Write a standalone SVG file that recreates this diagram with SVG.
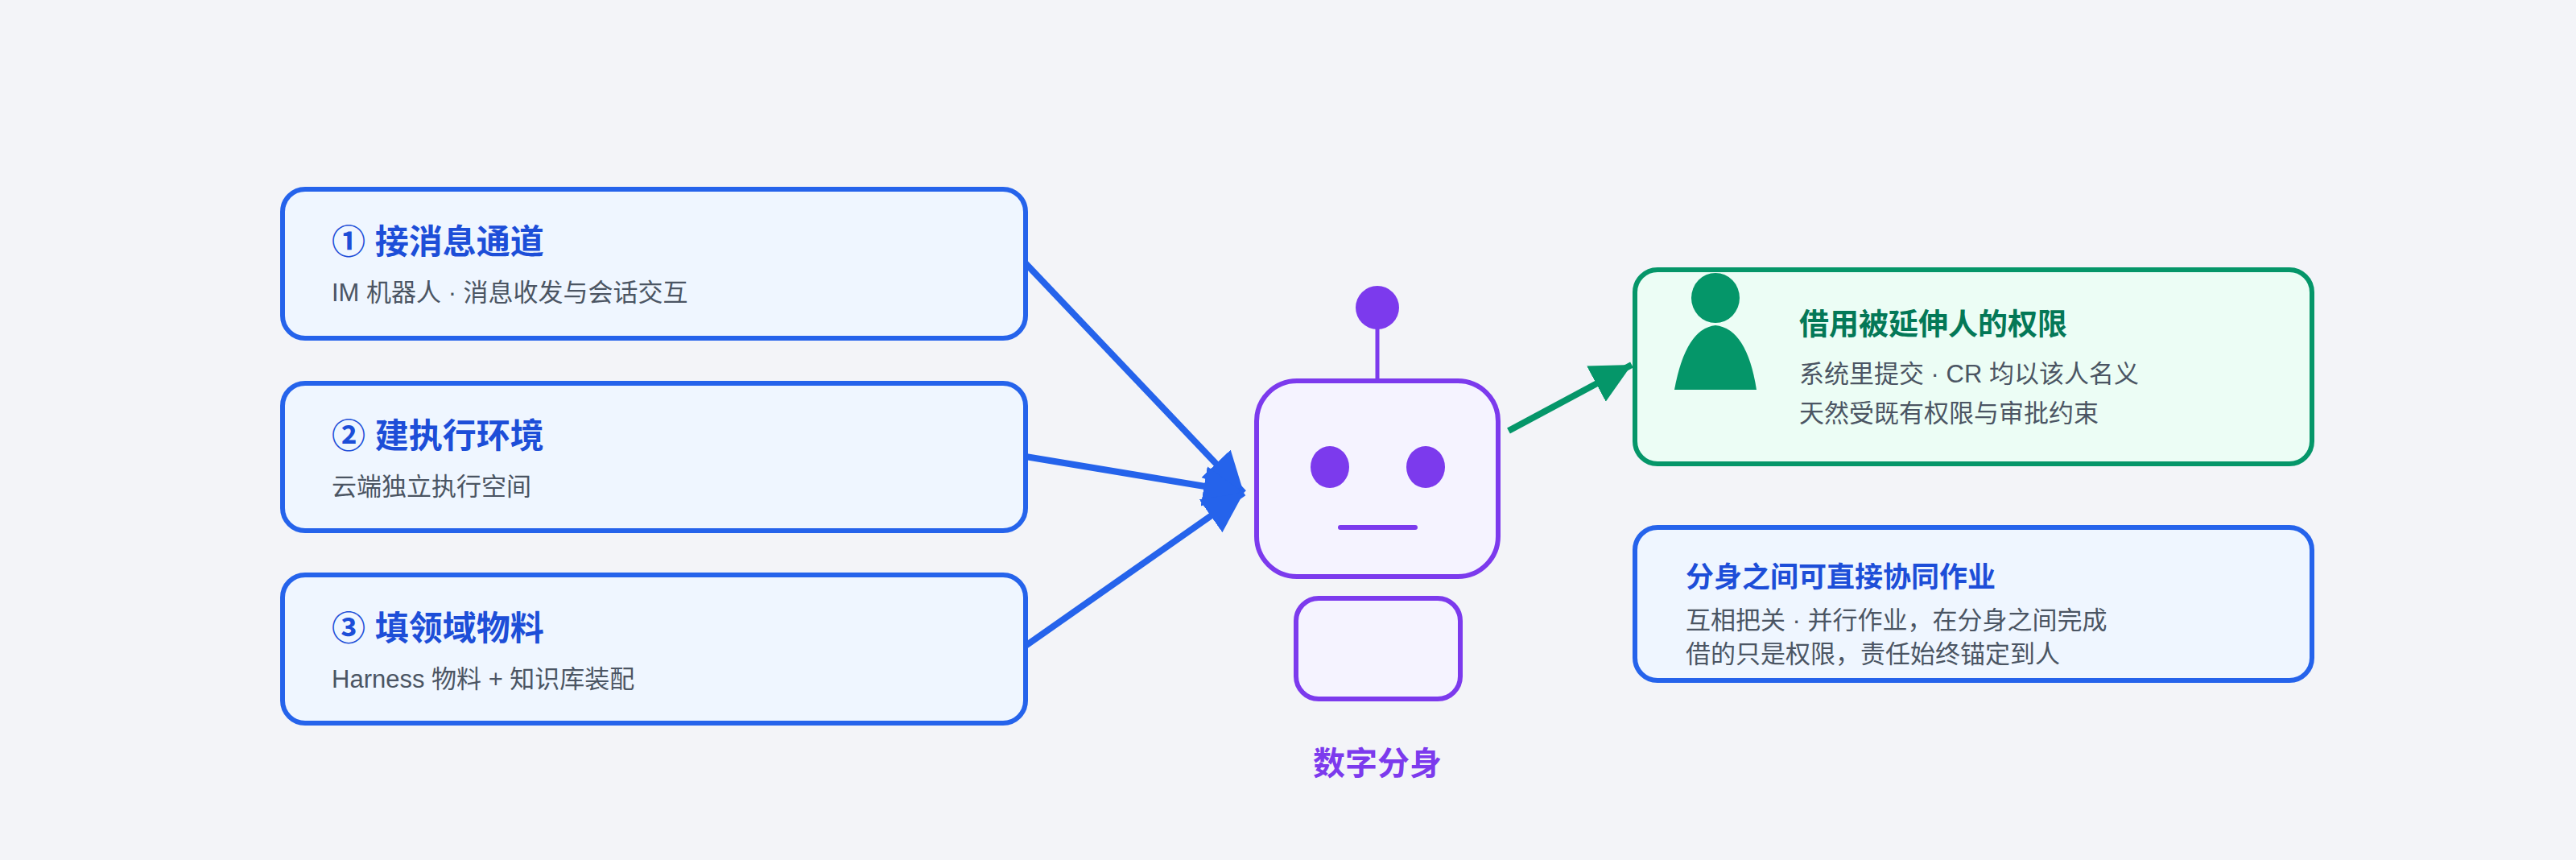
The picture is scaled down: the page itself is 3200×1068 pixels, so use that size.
<svg xmlns="http://www.w3.org/2000/svg" width="3200" height="1068" viewBox="0 0 3200 1068">
<defs>
<style>
.t{font-family:"Liberation Sans","Noto Sans CJK SC",sans-serif;}
.bt{font-size:42px;font-weight:bold;fill:#1d4ed8;}
.st{font-size:31px;fill:#4b5563;}
.bx{fill:#eff6ff;stroke:#2563eb;stroke-width:6;}
.pp{fill:#f5f3ff;stroke:#7c3aed;stroke-width:6;}
.ln{stroke:#2563eb;stroke-width:8;fill:none;}
</style>
<marker id="ab" markerUnits="userSpaceOnUse" markerWidth="60" markerHeight="60" refX="50" refY="25" orient="auto"><path d="M0,0 L50,25 L0,50 Z" fill="#2563eb"/></marker>
<marker id="ag" markerUnits="userSpaceOnUse" markerWidth="60" markerHeight="60" refX="50" refY="25" orient="auto"><path d="M0,0 L50,25 L0,50 Z" fill="#059669"/></marker>
</defs>
<rect width="3200" height="1068" fill="#f3f4f8"/>
<g id="connectors">
<line class="ln" x1="1274" y1="327" x2="1545" y2="612" marker-end="url(#ab)"/>
<line class="ln" x1="1274" y1="567" x2="1545" y2="612" marker-end="url(#ab)"/>
<line class="ln" x1="1274" y1="802" x2="1545" y2="612" marker-end="url(#ab)"/>
<line x1="1874" y1="535" x2="2027" y2="453" stroke="#059669" stroke-width="8" marker-end="url(#ag)"/>
</g>
<g id="n1"><rect class="bx" x="351" y="235" width="923" height="185" rx="28"/>
<text class="t bt" x="412" y="315">① 接消息通道</text>
<text class="t st" x="412" y="374">IM 机器人 · 消息收发与会话交互</text></g>
<g id="n2"><rect class="bx" x="351" y="476" width="923" height="183" rx="28"/>
<text class="t bt" x="412" y="556">② 建执行环境</text>
<text class="t st" x="412" y="615">云端独立执行空间</text></g>
<g id="n3"><rect class="bx" x="351" y="714" width="923" height="184" rx="28"/>
<text class="t bt" x="412" y="795">③ 填领域物料</text>
<text class="t st" x="412" y="854">Harness 物料 + 知识库装配</text></g>
<g id="robot">
<line x1="1711" y1="400" x2="1711" y2="473" stroke="#7c3aed" stroke-width="5"/>
<circle cx="1711" cy="382" r="27" fill="#7c3aed"/>
<rect class="pp" x="1561" y="473" width="300" height="243" rx="50"/>
<ellipse cx="1652" cy="580" rx="24" ry="26" fill="#7c3aed"/>
<ellipse cx="1771" cy="580" rx="24" ry="26" fill="#7c3aed"/>
<line x1="1665" y1="655" x2="1758" y2="655" stroke="#7c3aed" stroke-width="6" stroke-linecap="round"/>
<rect class="pp" x="1610" y="743" width="204" height="125" rx="28"/>
<text class="t" x="1711" y="962" text-anchor="middle" font-size="40" font-weight="bold" fill="#7c3aed">数字分身</text>
</g>
<g id="n4"><rect x="2031" y="335" width="841" height="241" rx="28" fill="#ecfdf5" stroke="#059669" stroke-width="6"/>
<ellipse cx="2131" cy="370" rx="30" ry="31" fill="#059669"/>
<path d="M2080,484 L2182,484 Q2170,408 2131,404 Q2094,408 2080,484 Z" fill="#059669"/>
<text class="t" x="2235" y="416" font-size="37" font-weight="bold" fill="#047857">借用被延伸人的权限</text>
<text class="t st" x="2235" y="475">系统里提交 · CR 均以该人名义</text>
<text class="t st" x="2235" y="524">天然受既有权限与审批约束</text></g>
<g id="n5"><rect class="bx" x="2031" y="655" width="841" height="190" rx="28"/>
<text class="t" x="2094" y="729" font-size="35" font-weight="bold" fill="#1d4ed8">分身之间可直接协同作业</text>
<text class="t st" x="2094" y="781">互相把关 · 并行作业，在分身之间完成</text>
<text class="t st" x="2094" y="823" fill="#6b7280">借的只是权限，责任始终锚定到人</text></g>
</svg>
